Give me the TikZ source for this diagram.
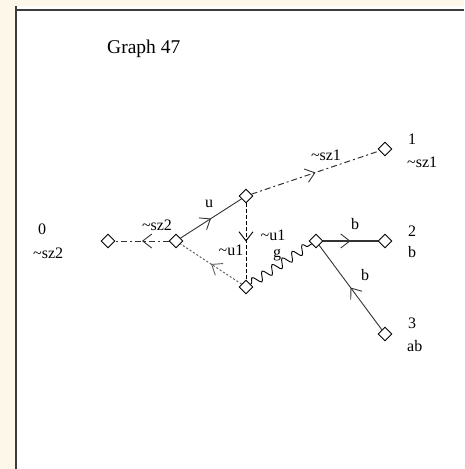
\documentclass[tikz,border=0pt]{standalone}
\usepackage{fontspec}
\setmainfont{Liberation Serif}
\usetikzlibrary{arrows.meta,decorations.markings,decorations.pathmorphing,shapes.geometric}
\definecolor{paper}{HTML}{FDF7EA}
\definecolor{frame}{HTML}{3C3C3C}
\definecolor{edgegray}{HTML}{333333}
\definecolor{dotgray}{HTML}{606060}
\begin{document}
\begin{tikzpicture}[x=1pt,y=-1pt,
  state/.style={shape=diamond,draw=black,fill=white,line width=0.9pt,
                minimum size=14pt,inner sep=0pt},
  lbl/.style={font=\fontsize{16}{16}\selectfont,inner sep=0pt},
  title/.style={font=\fontsize{19.5}{19.5}\selectfont,inner sep=0pt},
  midarrow/.style={postaction={decorate},
    decoration={markings,mark=at position 0.5 with
      {\arrow[line width=0.9pt]{Straight Barb[length=9pt,width=14pt]}}}},
  plain/.style={draw=edgegray,line width=0.9pt},
  dashdot/.style={draw=edgegray,line width=1pt,dash pattern=on 6pt off 3pt on 2pt off 3pt},
  dashline/.style={draw=black,line width=1pt,dash pattern=on 4pt off 2pt},
  dotline/.style={draw=dotgray,line width=1pt,dash pattern=on 2pt off 2pt},
  wave/.style={draw=black,line width=0.9pt,decorate,
    decoration={snake,amplitude=4.5pt,segment length=12pt,pre length=1pt,post length=1pt}}
]
\useasboundingbox (0,0) rectangle (464,469);

% page and frame
\fill[paper] (0,0) rectangle (464,469);
\fill[white] (16,6) rectangle (464,469);
\draw[frame,line width=1.4pt] (16,10) -- (464,10);
\draw[frame,line width=2pt] (16,6) -- (16,469);

% title
\node[title,anchor=base west] (ttl) at (107,53) {Graph 47};

% states
\node[state] (n0) at (108,241) {};
\node[state] (n4) at (176,241) {};
\node[state] (n5) at (246,196) {};
\node[state] (n6) at (246,287) {};
\node[state] (n7) at (316,241) {};
\node[state] (n1) at (385,149) {};
\node[state] (n2) at (385,241) {};
\node[state] (n3) at (385,334) {};

% state labels
\node[lbl,anchor=west] (l0a) at (38,229) {0};
\node[lbl,anchor=west] (l0b) at (33,253) {\textasciitilde sz2};
\node[lbl,anchor=west] (l1a) at (408,139) {1};
\node[lbl,anchor=west] (l1b) at (407,162) {\textasciitilde sz1};
\node[lbl,anchor=west] (l2a) at (408,231) {2};
\node[lbl,anchor=west] (l2b) at (408,252) {b};
\node[lbl,anchor=west] (l3a) at (408,323) {3};
\node[lbl,anchor=west] (l3b) at (407,346) {ab};

% transitions
\draw[dashdot,midarrow] (n4) -- (n0);
\draw[plain,midarrow] (n4) -- (n5);
\draw[dashdot,midarrow] (n5) -- (n1);
\draw[dashline,midarrow] (n5) -- (n6);
\draw[dotline,midarrow] (n6) -- (n4);
\draw[wave] (n6) -- (n7);
\draw[plain,line width=1.4pt,midarrow] (n7) -- (n2);
\draw[plain,midarrow] (n3) -- (n7);

% transition labels
\node[lbl] (e40) at (157,225) {\textasciitilde sz2};
\node[lbl] (e45) at (209,204) {u};
\node[lbl] (e51) at (326,155) {\textasciitilde sz1};
\node[lbl] (e64) at (231,250) {\textasciitilde u1};
\node[lbl] (e56) at (273,235) {\textasciitilde u1};
\node[lbl,anchor=base] (e67) at (277,257) {g};
\node[lbl] (e72) at (355,224) {b};
\node[lbl] (e37) at (365,275) {b};
\end{tikzpicture}
\end{document}
